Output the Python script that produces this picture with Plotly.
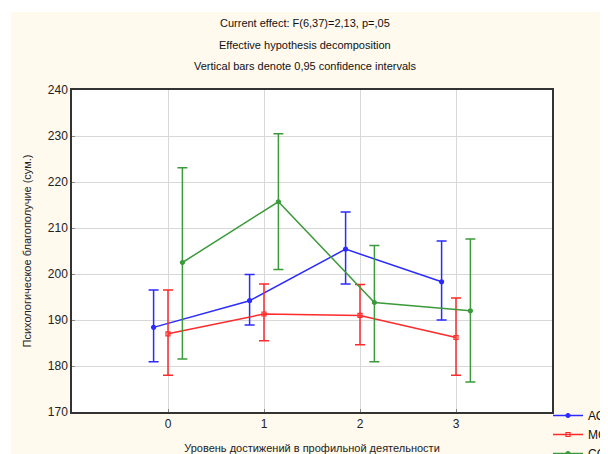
import plotly.graph_objects as go

categories = [0, 1, 2, 3]
tick_labels = ["0", "1", "2", "3"]

series_names = ["АС", "МС", "СС"]
as_mean = [188.4, 194.2, 205.4, 198.3]
as_upper = [196.5, 199.9, 213.5, 207.2]
as_lower = [180.9, 188.9, 197.8, 190.0]

ms_mean = [187.0, 191.3, 191.0, 186.2]
ms_upper = [196.5, 197.8, 197.7, 194.8]
ms_lower = [178.0, 185.5, 184.6, 178.0]

ss_mean = [202.5, 215.7, 193.8, 192.0]
ss_upper = [223.1, 230.5, 206.2, 207.6]
ss_lower = [181.5, 201.0, 180.9, 176.5]

title_lines = [
    "Current effect: F(6,37)=2,13, p=,05",
    "Effective hypothesis decomposition",
    "Vertical bars denote 0,95 confidence intervals",
]
x_title = "Уровень достижений в профильной деятельности"
y_title = "Психологическое благополучие (сум.)"

# page offset (browser body margin)
OFF = 8
W, H = 608, 454
L, R, T, B = 72 - OFF, 64, 90 - OFF, 50
PW, PH = W - L - R, H - T - B

def px_x(p):
    return (p - OFF - L) / PW

def px_y(p):
    return (H - B - (p - OFF)) / PH

styles = [
    dict(color="#2b2bff", symbol="circle", offset=-0.15),
    dict(color="#ff2a2a", symbol="square-open", offset=0.0),
    dict(color="#3c9a3c", symbol="circle", offset=0.15),
]
data = [
    (as_mean, as_upper, as_lower),
    (ms_mean, ms_upper, ms_lower),
    (ss_mean, ss_upper, ss_lower),
]

fig = go.Figure()
for name, (m, up, lo), st in zip(series_names, data, styles):
    fig.add_trace(go.Scatter(
        x=[c + st["offset"] for c in categories],
        y=m,
        name=name,
        mode="lines+markers",
        line=dict(color=st["color"], width=1.5),
        marker=dict(color=st["color"], symbol=st["symbol"], size=4,
                    line=dict(color=st["color"], width=1.2)),
        error_y=dict(
            type="data", symmetric=False,
            array=[u - v for u, v in zip(up, m)],
            arrayminus=[v - l for v, l in zip(m, lo)],
            color=st["color"], thickness=1.5, width=5,
        ),
    ))

shapes = [
    dict(type="rect", xref="paper", yref="paper", layer="below",
         x0=px_x(11), x1=px_x(W + 20), y0=px_y(H + 20), y1=px_y(12),
         fillcolor="#fff9ee", line=dict(width=0)),
    dict(type="rect", xref="paper", yref="paper", layer="below",
         x0=0, x1=1, y0=0, y1=1, fillcolor="white", line=dict(width=0)),
]

annotations = []
for i, t in enumerate(title_lines):
    annotations.append(dict(
        text=t, xref="paper", yref="paper", x=px_x(305), y=px_y(23 + i * 21.5),
        xanchor="center", yanchor="middle", showarrow=False,
        font=dict(family="Liberation Sans, Arial", size=11, color="#111"),
    ))

fig.update_layout(
    width=W, height=H,
    margin=dict(l=L, r=R, t=T, b=B, autoexpand=False),
    paper_bgcolor="white",
    plot_bgcolor="white",
    font=dict(family="Liberation Sans, Arial", size=11, color="#111"),
    shapes=shapes,
    annotations=annotations,
    showlegend=True,
    legend=dict(
        x=px_x(548), y=px_y(401), xanchor="left", yanchor="top",
        bgcolor="rgba(0,0,0,0)", font=dict(size=12, color="#111"),
        tracegroupgap=0, itemwidth=30,
    ),
)
fig.update_xaxes(
    range=[-1, 4], tickvals=categories, ticktext=tick_labels,
    showgrid=True, gridcolor="#d8d8d8", gridwidth=1,
    showline=True, linecolor="#333", linewidth=1.5, mirror=True,
    ticks="inside", ticklen=3, tickcolor="#888",
    tickfont=dict(size=12, color="#222"),
    title=dict(text=x_title, font=dict(size=11, color="#222"), standoff=14),
    zeroline=False,
)
fig.update_yaxes(
    range=[170, 240], dtick=10,
    showgrid=True, gridcolor="#d8d8d8", gridwidth=1,
    showline=True, linecolor="#333", linewidth=1.5, mirror=True,
    ticks="inside", ticklen=3, tickcolor="#888",
    tickfont=dict(size=12, color="#222"),
    title=dict(text=y_title, font=dict(size=11, color="#222"), standoff=14),
    zeroline=False,
)

fig.write_html("out.html")
